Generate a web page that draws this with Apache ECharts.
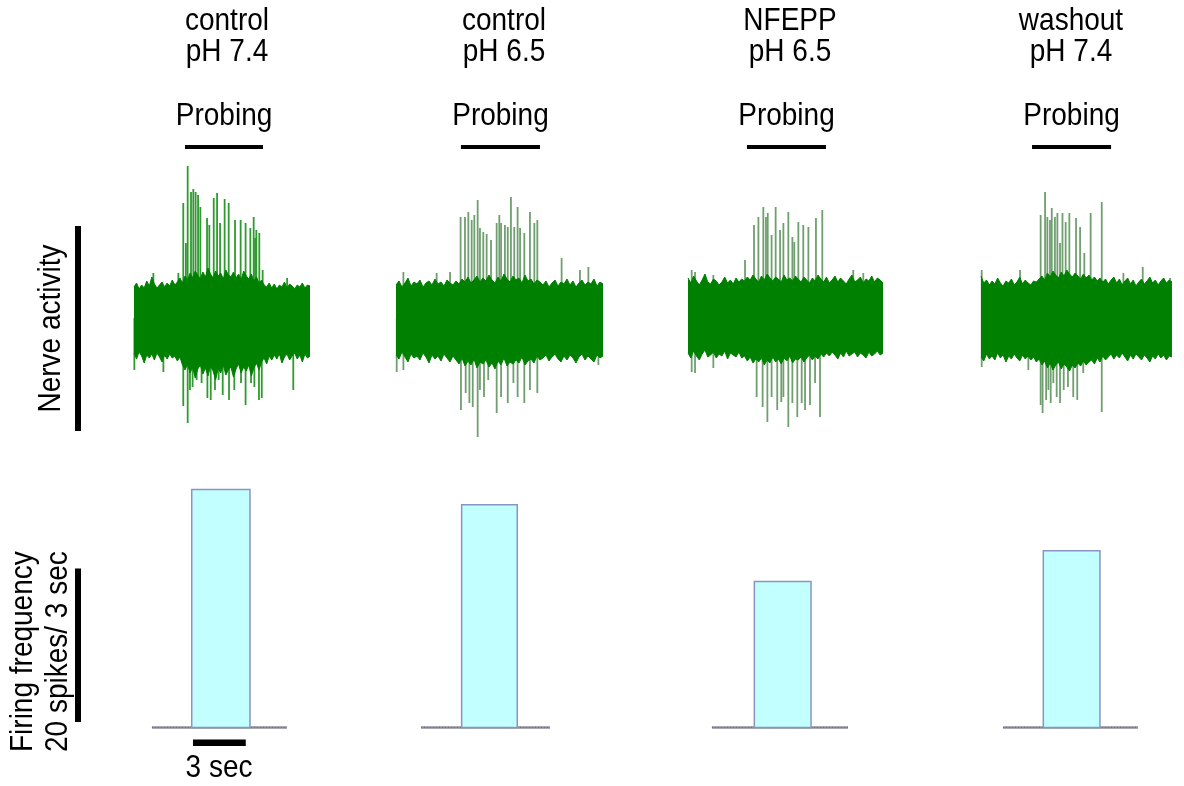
<!DOCTYPE html>
<html><head><meta charset="utf-8">
<script src="https://cdn.jsdelivr.net/npm/echarts@6/dist/echarts.min.js"></script>
<style>html,body{margin:0;padding:0;background:#fff}#c{width:1184px;height:786px}</style>
</head><body><div id="c"></div><script>
// ---------------- DATA ----------------
const conditions = ['control', 'control', 'NFEPP', 'washout'];
const phLabels = ['pH 7.4', 'pH 6.5', 'pH 6.5', 'pH 7.4'];
const probingLabel = 'Probing';
// recording duration of each trace (s)
const durations = [10.0, 11.76, 11.08, 10.85];
// probing period [start, end] (s)
const probing1 = [2.90, 7.33];
const probing2 = [3.69, 8.18];
const probing3 = [3.35, 7.84];
const probing4 = [2.90, 7.39];
// noise band envelope (arbitrary units), evenly sampled over the trace
const bandTop1 = [31,35,29,33,30,37,32,41,34,30,33,36,31,35,32,38,33,36,40,35,42,38,45,40,47,43,39,46,41,50,44,40,47,42,45,39,48,43,41,46,40,44,38,47,42,39,44,37,41,35,38,33,31,35,30,34,29,33,31,36,30,34,32,29,33,31,35,30,33,32];
const bandBot1 = [-35,-41,-34,-38,-45,-37,-40,-36,-42,-35,-39,-44,-37,-41,-36,-40,-38,-43,-39,-47,-52,-46,-55,-49,-60,-51,-47,-56,-50,-58,-48,-53,-62,-50,-55,-47,-57,-52,-49,-59,-51,-46,-55,-49,-53,-47,-58,-50,-45,-52,-44,-40,-46,-38,-42,-37,-41,-36,-45,-39,-36,-42,-38,-35,-41,-37,-44,-36,-40,-38];
const bandTop2 = [33,37,31,35,40,32,36,34,38,31,35,37,33,39,34,36,32,38,35,33,37,34,39,36,41,35,38,42,36,40,37,43,38,35,41,37,44,39,36,42,38,40,35,43,37,39,34,38,36,33,37,31,35,38,32,36,34,39,33,37,31,35,38,33,36,34,39,32,36,34];
const bandBot2 = [-37,-41,-34,-39,-44,-36,-40,-38,-42,-35,-39,-45,-37,-41,-38,-43,-36,-40,-44,-38,-42,-46,-40,-48,-43,-47,-41,-50,-44,-46,-42,-49,-45,-51,-43,-47,-40,-48,-44,-46,-42,-45,-39,-47,-43,-41,-45,-38,-42,-40,-37,-43,-39,-36,-41,-44,-38,-42,-37,-40,-45,-39,-36,-42,-38,-41,-44,-37,-40,-38];
const bandTop3 = [40,35,42,37,33,38,44,36,34,39,37,33,36,41,35,38,34,40,36,39,37,41,38,43,39,36,42,38,44,40,37,41,39,36,43,38,40,37,42,39,36,41,38,35,40,37,43,39,36,41,35,38,42,36,40,37,34,39,43,36,38,41,35,39,37,42,36,40,38,35];
const bandBot3 = [-35,-40,-33,-38,-42,-36,-32,-39,-37,-34,-40,-36,-38,-33,-41,-35,-37,-39,-34,-40,-38,-43,-39,-45,-41,-44,-40,-47,-42,-45,-39,-44,-41,-46,-40,-43,-38,-45,-41,-42,-39,-44,-40,-37,-42,-38,-41,-36,-39,-35,-38,-34,-37,-41,-35,-39,-33,-38,-36,-34,-39,-35,-37,-40,-34,-38,-36,-33,-37,-35];
const bandTop4 = [42,35,38,33,37,34,40,35,32,37,35,39,33,36,41,34,38,35,33,37,36,39,42,38,45,41,47,43,40,46,42,48,44,41,45,42,39,44,40,43,38,41,37,40,36,39,34,38,41,35,39,33,37,40,34,38,32,36,39,34,37,41,35,38,33,37,40,35,38,36];
const bandBot4 = [-39,-43,-36,-41,-38,-42,-35,-40,-37,-44,-38,-41,-36,-40,-43,-37,-41,-38,-42,-39,-44,-41,-47,-43,-50,-45,-52,-47,-44,-51,-46,-49,-53,-47,-50,-45,-48,-43,-47,-44,-42,-46,-40,-44,-38,-42,-39,-36,-41,-37,-40,-35,-39,-43,-37,-41,-36,-39,-42,-37,-40,-44,-38,-41,-36,-40,-37,-42,-38,-39];
// spikes [time (s), peak amplitude]
const spikesUp1 = [[1.10,45],[2.52,45],[2.80,115],[2.95,75],[3.05,152],[3.24,126],[3.37,129],[3.50,126],[3.64,123],[3.77,111],[4.15,100],[4.28,93],[4.53,120],[4.72,125],[4.89,95],[5.15,119],[5.38,115],[5.74,98],[6.06,98],[6.34,95],[6.61,90],[6.80,101],[6.88,80],[6.95,88],[7.12,85],[7.31,48],[8.70,40]];
const spikesDown1 = [[0.02,-52],[1.67,-54],[2.80,-88],[3.05,-105],[3.18,-72],[3.33,-69],[3.56,-62],[3.84,-65],[4.17,-80],[4.36,-82],[4.60,-72],[4.81,-62],[5.04,-77],[5.40,-82],[5.70,-72],[6.08,-65],[6.34,-87],[6.65,-65],[6.84,-69],[7.10,-82],[7.26,-80],[9.05,-72]];
const spikesUp2 = [[0.42,46],[2.31,45],[3.07,46],[3.67,101],[3.92,101],[4.11,106],[4.30,98],[4.45,103],[4.64,118],[4.77,90],[4.96,86],[5.15,84],[5.40,78],[5.72,95],[5.87,103],[5.97,95],[6.19,93],[6.35,91],[6.53,121],[6.72,91],[6.91,111],[7.05,90],[7.29,85],[7.61,106],[7.86,95],[8.03,98],[9.41,60],[10.45,48],[10.93,51]];
const spikesDown2 = [[0.04,-54],[0.42,-52],[3.69,-92],[3.96,-75],[4.17,-85],[4.36,-89],[4.64,-119],[4.77,-72],[5.00,-79],[5.24,-62],[5.72,-95],[5.97,-79],[6.35,-85],[6.67,-65],[6.91,-79],[7.29,-85],[7.61,-72],[8.03,-75],[11.50,-47]];
const spikesUp3 = [[0.21,48],[0.40,46],[1.44,43],[3.24,58],[3.75,93],[4.00,101],[4.28,111],[4.43,101],[4.53,105],[4.75,83],[4.98,111],[5.23,88],[5.42,95],[5.70,106],[5.93,81],[6.04,76],[6.27,96],[6.55,93],[6.84,91],[7.27,100],[7.63,108],[9.39,48],[9.96,45]];
const spikesDown3 = [[0.21,-54],[0.40,-55],[1.44,-50],[3.90,-79],[4.24,-89],[4.51,-104],[4.75,-79],[5.07,-92],[5.30,-84],[5.42,-79],[5.70,-109],[5.93,-85],[6.21,-99],[6.46,-85],[6.65,-92],[6.93,-87],[7.22,-65],[7.50,-99]];
const spikesUp4 = [[0.04,48],[2.22,48],[3.39,103],[3.64,126],[3.77,101],[3.92,98],[4.02,110],[4.20,101],[4.34,105],[4.49,75],[4.63,105],[4.81,96],[5.02,105],[5.40,100],[5.63,91],[5.87,65],[6.23,105],[6.86,116],[8.09,45],[9.19,51],[10.74,40]];
const spikesDown4 = [[0.04,-49],[2.69,-52],[3.39,-87],[3.50,-95],[3.70,-82],[3.83,-72],[3.96,-85],[4.11,-65],[4.30,-79],[4.49,-85],[4.70,-72],[4.94,-69],[5.24,-79],[5.47,-82],[5.81,-55],[6.86,-94]];
// histogram: axis extent [start, end] (s) and bin [start, end, spikes]
const histAxis = [[1.02, 8.69], [1.42, 8.75], [1.36, 9.09], [1.25, 8.92]];
const histBins = [[3.28, 6.59, 31], [3.73, 6.89, 29], [3.77, 6.99, 19], [3.54, 6.76, 23]];
// scale bars
const nerveScale = [-113, 92];      // amplitude units
const firingScale = [0.7, 20.7];    // 20 spikes / 3 sec
const timeScale = [3.35, 6.35];     // 3 sec
const timeScaleLabel = '3 sec';
const nerveLabel = 'Nerve activity';
const firingLabel = ['Firing frequency', '20 spikes/ 3 sec'];

// ---------------- LAYOUT ----------------
const probings = [probing1, probing2, probing3, probing4];
const bandTops = [bandTop1, bandTop2, bandTop3, bandTop4];
const bandBots = [bandBot1, bandBot2, bandBot3, bandBot4];
const ups = [spikesUp1, spikesUp2, spikesUp3, spikesUp4];
const downs = [spikesDown1, spikesDown2, spikesDown3, spikesDown4];
const lefts = [134, 396, 688, 981];
const PXS = 17.6;
const TR_TOP = 100, TR_H = 340, TR_MIN = -122, TR_MAX = 218, PROBE_LEVEL = 171;
const H_MIN = -3, H_MAX = 32, H_K = 7.68, H_BASE = 727.5;
const H_TOP = H_BASE - H_MAX * H_K, H_H = (H_MAX - H_MIN) * H_K;
const spikeColors = ['#2f9a2f', '#6f9f6f', '#6f9f6f', '#6f9f6f'];
const FONT = 'Arial, "Liberation Sans", sans-serif';
const FS = 28, SY = 1.1;

const grid = [], xAxis = [], yAxis = [], series = [];
function addGrid(left, width, top, height, xmin, xmax, ymin, ymax) {
  const idx = grid.length;
  grid.push({left, width, top, height, containLabel: false});
  xAxis.push({type: 'value', gridIndex: idx, min: xmin, max: xmax, show: false});
  yAxis.push({type: 'value', gridIndex: idx, min: ymin, max: ymax, show: false});
  return idx;
}
function spikeSeries(idx, data, color) {
  return {
    type: 'custom', xAxisIndex: idx, yAxisIndex: idx, z: 1, data,
    encode: {x: 0, y: 1}, silent: true,
    renderItem: function (params, api) {
      const p0 = api.coord([api.value(0), 0]);
      const p1 = api.coord([api.value(0), api.value(1)]);
      return {type: 'line', shape: {x1: p0[0], y1: p0[1], x2: p1[0], y2: p1[1]},
        style: {stroke: color, lineWidth: 1.8}};
    }
  };
}
function bandSeries(idx, arr, dur) {
  return {
    type: 'line', xAxisIndex: idx, yAxisIndex: idx, z: 3, symbol: 'none', silent: true,
    data: arr.map((v, i) => [i * dur / (arr.length - 1), v]),
    lineStyle: {color: '#008000', width: 1}, areaStyle: {color: '#008000', opacity: 1}
  };
}
for (let i = 0; i < 4; i++) {
  const w = durations[i] * PXS;
  const g = addGrid(lefts[i], w, TR_TOP, TR_H, 0, durations[i], TR_MIN, TR_MAX);
  series.push(spikeSeries(g, ups[i], spikeColors[i]));
  series.push(spikeSeries(g, downs[i], spikeColors[i]));
  series.push(bandSeries(g, bandTops[i], durations[i]));
  series.push(bandSeries(g, bandBots[i], durations[i]));
  series.push({type: 'line', xAxisIndex: g, yAxisIndex: g, symbol: 'none', silent: true,
    data: [[probings[i][0], PROBE_LEVEL], [probings[i][1], PROBE_LEVEL]],
    lineStyle: {color: '#000', width: 4}});
}
for (let i = 0; i < 4; i++) {
  const w = durations[i] * PXS;
  const g = addGrid(lefts[i], w, H_TOP, H_H, 0, durations[i], H_MIN, H_MAX);
  series.push({type: 'line', xAxisIndex: g, yAxisIndex: g, symbol: 'none', silent: true, z: 1,
    data: [[histAxis[i][0], 0], [histAxis[i][1], 0]],
    lineStyle: {color: '#8e8e9c', width: 2.5}});
  series.push({type: 'line', xAxisIndex: g, yAxisIndex: g, symbol: 'none', silent: true, z: 2,
    data: [[histAxis[i][0], 0], [histAxis[i][1], 0]],
    lineStyle: {color: '#6c6c7a', width: 1, type: [1, 2]}});
  series.push({
    type: 'custom', xAxisIndex: g, yAxisIndex: g, z: 3, data: [histBins[i]],
    encode: {x: [0, 1], y: 2}, silent: true,
    renderItem: function (params, api) {
      const p0 = api.coord([api.value(0), 0]);
      const p1 = api.coord([api.value(1), api.value(2)]);
      return {type: 'rect', shape: {x: p0[0], y: p1[1], width: p1[0] - p0[0], height: p0[1] - p1[1]},
        style: {fill: '#c2ffff', stroke: '#8a94c4', lineWidth: 1.5}};
    }
  });
  if (i === 0) {
    series.push({type: 'line', xAxisIndex: g, yAxisIndex: g, symbol: 'none', silent: true,
      data: [[timeScale[0], -2], [timeScale[1], -2]], lineStyle: {color: '#000', width: 6.5}});
  }
}
const gn = addGrid(70, 16, TR_TOP, TR_H, 0, 1, TR_MIN, TR_MAX);
series.push({type: 'line', xAxisIndex: gn, yAxisIndex: gn, symbol: 'none', silent: true,
  data: [[0.5, nerveScale[0]], [0.5, nerveScale[1]]], lineStyle: {color: '#000', width: 6, cap: 'butt'}});
const gf = addGrid(70, 16, H_TOP, H_H, 0, 1, H_MIN, H_MAX);
series.push({type: 'line', xAxisIndex: gf, yAxisIndex: gf, symbol: 'none', silent: true,
  data: [[0.5, firingScale[0]], [0.5, firingScale[1]]], lineStyle: {color: '#000', width: 6, cap: 'butt'}});

// text
const centers = [227, 504, 790, 1071];
const graphic = [];
function txt(x, y, text, opts) {
  opts = opts || {};
  graphic.push({type: 'text', x, y, rotation: opts.rot || 0, scaleY: opts.sy || SY, silent: true,
    style: {text, fill: '#000', font: (opts.fs || FS) + 'px ' + FONT,
      align: opts.align || 'center', verticalAlign: 'middle',
      textAlign: opts.align || 'center', textVerticalAlign: 'middle'}});
}
for (let i = 0; i < 4; i++) {
  txt(centers[i], 22, conditions[i]);
  txt(centers[i], 53, phLabels[i]);
  const pc = lefts[i] + (probings[i][0] + probings[i][1]) / 2 * PXS;
  txt(pc, 117, probingLabel);
}
txt(219, 769, timeScaleLabel);
txt(52, 328.5, nerveLabel, {rot: Math.PI / 2});
txt(24, 752, firingLabel[0], {rot: Math.PI / 2, align: 'left'});
txt(58.5, 752, firingLabel[1], {rot: Math.PI / 2, align: 'left'});

const chart = echarts.init(document.getElementById('c'), null, {renderer: 'canvas'});
chart.setOption({animation: false, backgroundColor: '#fff', grid, xAxis, yAxis, series, graphic});
</script></body></html>
